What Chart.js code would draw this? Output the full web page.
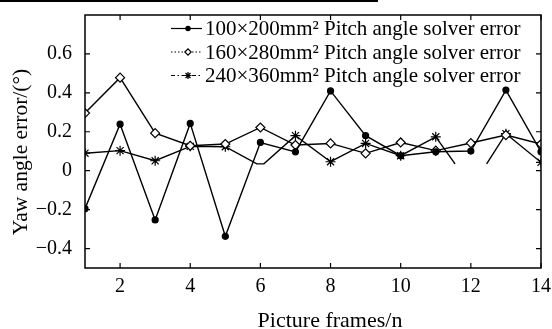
<!DOCTYPE html>
<html>
<head>
<meta charset="utf-8">
<script src="https://cdn.jsdelivr.net/npm/chart.js@4/dist/chart.umd.min.js"></script>
<style>
  html, body { margin: 0; padding: 0; background: #fff; }
  #wrap { width: 552px; height: 329px; }
</style>
</head>
<body>
<div id="wrap"><canvas id="yawChart" width="552" height="329"></canvas></div>
<script>
// ======================================
// Data
// ======================================

const frames = [1, 2, 3, 4, 5, 6, 7, 8, 9, 10, 11, 12, 13, 14];

const err100 = [-0.195, 0.239, -0.253, 0.243, -0.337, 0.145, 0.097, 0.41, 0.18, 0.077, 0.097, 0.101, 0.414, 0.097];

const err160 = [0.296, 0.478, 0.193, 0.128, 0.137, 0.222, 0.132, 0.14, 0.089, 0.145, 0.103, 0.142, 0.183, 0.137];

// third series is broken around frame 6 and frame 12 in the source figure
const frames240 = [1, 2, 3, 4, 5, 5.9, 6.1, 7, 8, 9, 10, 11, 11.55, 12, 12.45, 13, 14];
const err240 = [0.09, 0.103, 0.051, 0.125, 0.123, 0.035, 0.035, 0.18, 0.046, 0.14, 0.077, 0.174, 0.035, null, 0.035, 0.19, 0.043];

const seriesLabels = [
  "100×200mm² Pitch angle solver error",
  "160×280mm² Pitch angle solver error",
  "240×360mm² Pitch angle solver error",
];

const yTicks = [-0.4, -0.2, 0, 0.2, 0.4, 0.6];
const xTicks = [2, 4, 6, 8, 10, 12, 14];

const FONT = "'Liberation Serif', 'Times New Roman', serif";

const toPoints = (xs, ys) => xs.map((x, i) => ({ x: x, y: ys[i] }));

// markers only on whole frames
const markerRadius = (r) => (ctx) => {
  const raw = ctx.raw;
  return raw && Number.isInteger(raw.x) ? r : 0;
};

const markers = [
  { pointStyle: "circle", radius: 3, fill: "#000", dash: [] },
  { pointStyle: "rectRot", radius: 4.5, fill: "#fff", dash: [1.5, 2] },
  { pointStyle: "star", radius: 5, fill: "#000", dash: [4, 2.5, 1.5, 2.5] },
];

// ======================================
// Frame, inward ticks, legend, titles
// ======================================

const framePlugin = {
  id: "frame",
  afterDraw(chart) {
    const ctx = chart.ctx;
    const a = chart.chartArea;
    const xs = chart.scales.x;
    const ys = chart.scales.y;

    ctx.save();

    // stray rule at top of the scanned figure
    ctx.fillStyle = "#000";
    ctx.fillRect(0, 0, 378, 2);

    ctx.strokeStyle = "#000";
    ctx.lineWidth = 1.5;
    ctx.setLineDash([]);
    ctx.strokeRect(a.left, a.top, a.right - a.left, a.bottom - a.top);

    ctx.lineWidth = 1.2;
    ctx.beginPath();
    yTicks.forEach((v) => {
      const y = ys.getPixelForValue(v);
      ctx.moveTo(a.left, y);
      ctx.lineTo(a.left + 5, y);
      ctx.moveTo(a.right, y);
      ctx.lineTo(a.right - 5, y);
    });
    xTicks.forEach((v) => {
      const x = xs.getPixelForValue(v);
      ctx.moveTo(x, a.bottom);
      ctx.lineTo(x, a.bottom - 5);
      ctx.moveTo(x, a.top);
      ctx.lineTo(x, a.top + 5);
    });
    ctx.stroke();

    // legend
    const rows = [28.5, 52, 75.5];
    ctx.font = "21px " + FONT;
    ctx.textBaseline = "middle";
    ctx.textAlign = "left";
    rows.forEach((y, i) => {
      const m = markers[i];
      ctx.lineWidth = 1.2;
      ctx.setLineDash(m.dash);
      ctx.beginPath();
      ctx.moveTo(171, y);
      ctx.lineTo(202, y);
      ctx.stroke();
      ctx.setLineDash([]);
      ctx.fillStyle = m.fill;
      Chart.helpers.drawPoint(ctx, {
        pointStyle: m.pointStyle,
        radius: m.radius * 0.7,
        rotation: 0,
        borderWidth: 1.2,
      }, 188, y);
      ctx.fillStyle = "#000";
      ctx.fillText(seriesLabels[i], 205, y + 1);
    });

    // axis titles
    ctx.font = "22px " + FONT;
    ctx.textAlign = "center";
    ctx.fillText("Picture frames/n", 330, 321);

    ctx.save();
    ctx.translate(21, 152);
    ctx.rotate(-Math.PI / 2);
    ctx.font = "21.5px " + FONT;
    ctx.fillText("Yaw angle error/(°)", 0, 0);
    ctx.restore();

    ctx.restore();
  },
};

// ======================================
// Chart
// ======================================

const makeDataset = (label, points, m) => ({
  label: label,
  data: points,
  borderColor: "#000",
  borderWidth: 1.4,
  backgroundColor: m.fill,
  pointStyle: m.pointStyle,
  pointRadius: markerRadius(m.radius),
  pointHoverRadius: 0,
  pointBorderColor: "#000",
  pointBackgroundColor: m.fill,
  pointBorderWidth: 1.2,
  tension: 0,
  spanGaps: false,
});

new Chart(document.getElementById("yawChart"), {
  type: "line",

  data: {
    datasets: [
      makeDataset(seriesLabels[0], toPoints(frames, err100), markers[0]),
      makeDataset(seriesLabels[1], toPoints(frames, err160), markers[1]),
      makeDataset(seriesLabels[2], toPoints(frames240, err240), markers[2]),
    ],
  },

  options: {
    responsive: false,
    animation: false,
    events: [],

    layout: {
      padding: { top: 15, right: 11, left: 0, bottom: 0 },
    },

    plugins: {
      legend: { display: false },
      tooltip: { enabled: false },
    },

    scales: {
      x: {
        type: "linear",
        min: 1,
        max: 14,
        grid: { display: false, drawTicks: false },
        border: { display: false },
        afterBuildTicks(axis) {
          axis.ticks = xTicks.map((v) => ({ value: v }));
        },
        afterFit(axis) {
          axis.height = 61;
          axis.paddingLeft = 0;
          axis.paddingRight = 0;
        },
        ticks: {
          color: "#000",
          padding: 7,
          maxRotation: 0,
          font: { family: FONT, size: 20 },
        },
      },

      y: {
        min: -0.5,
        max: 0.8,
        grid: { display: false, drawTicks: false },
        border: { display: false },
        afterBuildTicks(axis) {
          axis.ticks = yTicks.map((v) => ({ value: v }));
        },
        afterFit(axis) {
          axis.width = 85;
          axis.paddingTop = 0;
          axis.paddingBottom = 0;
        },
        ticks: {
          color: "#000",
          padding: 13,
          font: { family: FONT, size: 20 },
          callback: (v) => (v === 0 ? "0" : v.toFixed(1).replace("-", "\u2212")),
        },
      },
    },
  },

  plugins: [framePlugin],
});
</script>
</body>
</html>
